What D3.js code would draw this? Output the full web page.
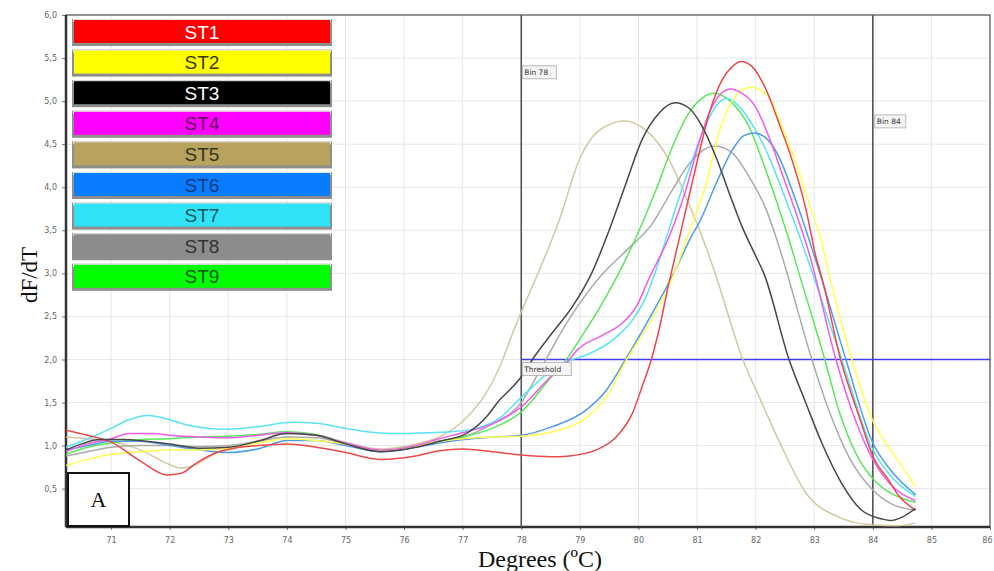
<!DOCTYPE html>
<html><head><meta charset="utf-8">
<script src="https://cdn.jsdelivr.net/npm/d3@7/dist/d3.min.js"></script>
<style>
html,body{margin:0;padding:0;background:#fff;}
svg{display:block;}
</style></head>
<body>
<svg id="chart" width="994" height="571"></svg>
<script>
// ---------- DATA ----------
const seriesNames = ["ST1","ST2","ST3","ST4","ST5","ST6","ST7","ST8","ST9"];
const legendFill  = ["#ff0000","#ffff00","#000000","#ff00ff","#b8a25e","#0a7cff","#30e2f6","#8c8c8c","#00ff00"];
const legendText  = ["#ffffff","#3a3a00","#ffffff","#5a005a","#333322","#083a7a","#0a5660","#333333","#0a560a"];
const lineColors  = ["#ee4848","#ffff50","#474747","#ee5cee","#d2c8a2","#4f9de8","#5ae2f6","#ababab","#5ae85a"];

const xTicks = [71,72,73,74,75,76,77,78,79,80,81,82,83,84,85,86];
const yTicks = [0.5,1.0,1.5,2.0,2.5,3.0,3.5,4.0,4.5,5.0,5.5,6.0];
const binMarkers = [78, 84];
const thresholdValue = 2.0;

// melt curves: [temperature, dF/dT]
const st1 = [[70.23,1.18],[70.6,1.12],[71,1.04],[71.5,0.82],[71.95,0.66],[72.2,0.68],[72.46,0.80],[72.8,0.92],[73.1,0.97],[73.5,1.0],[74,1.02],[74.5,0.98],[75,0.92],[75.6,0.84],[76.2,0.88],[76.6,0.94],[77,0.96],[77.5,0.93],[78,0.89],[78.5,0.87],[78.82,0.88],[79.28,0.95],[79.62,1.10],[79.9,1.38],[80.06,1.68],[80.22,2.0],[80.35,2.34],[80.52,2.89],[80.6,3.12],[80.81,3.74],[81.03,4.38],[81.2,4.84],[81.43,5.25],[81.6,5.40],[81.75,5.46],[81.94,5.40],[82.18,5.13],[82.4,4.74],[82.62,4.32],[82.86,3.74],[83.03,3.19],[83.13,2.95],[83.45,2.0],[83.76,1.35],[84.02,0.85],[84.27,0.60],[84.44,0.42],[84.73,0.25]];
const st2 = [[70.23,0.77],[70.6,0.84],[71,0.90],[71.5,0.93],[72,0.95],[72.5,0.95],[73,0.97],[73.5,1.03],[74,1.08],[74.5,1.06],[75,1.02],[75.6,0.95],[76.2,0.99],[76.6,1.05],[77,1.08],[77.5,1.10],[78,1.11],[78.53,1.16],[79.1,1.32],[79.45,1.56],[79.8,2.0],[80.24,2.48],[80.58,2.95],[80.92,3.58],[81.16,4.05],[81.38,4.65],[81.6,5.0],[81.8,5.14],[81.94,5.16],[82.1,5.12],[82.23,5.05],[82.45,4.70],[82.69,4.28],[82.91,3.82],[83.13,3.35],[83.25,3.0],[83.64,2.0],[83.98,1.32],[84.27,0.98],[84.44,0.82],[84.73,0.52]];
const st3 = [[70.23,0.95],[70.5,1.02],[70.8,1.07],[71.2,1.07],[71.6,1.05],[72,1.02],[72.5,0.97],[73,0.98],[73.5,1.05],[74,1.14],[74.5,1.12],[75,1.02],[75.6,0.93],[76.2,0.98],[76.6,1.05],[77.06,1.14],[77.4,1.33],[77.63,1.53],[77.85,1.68],[78,1.80],[78.19,2.0],[78.53,2.31],[78.87,2.61],[79.2,3.0],[79.5,3.50],[79.79,4.05],[80.06,4.55],[80.35,4.86],[80.62,4.98],[80.86,4.92],[81.06,4.74],[81.33,4.34],[81.55,3.93],[81.77,3.54],[82.01,3.19],[82.14,3.0],[82.57,2.0],[82.86,1.49],[83.13,1.03],[83.47,0.56],[83.81,0.25],[84.15,0.15],[84.3,0.13],[84.5,0.17],[84.73,0.27]];
const st4 = [[70.23,0.93],[70.6,1.02],[71,1.08],[71.3,1.14],[71.7,1.14],[72,1.12],[72.5,1.10],[73,1.09],[73.5,1.12],[74,1.15],[74.5,1.12],[75,1.03],[75.6,0.95],[76.2,1.0],[76.6,1.08],[77,1.15],[77.5,1.25],[78,1.45],[78.5,1.80],[78.82,2.0],[78.94,2.10],[79.38,2.28],[79.72,2.42],[79.96,2.61],[80.18,2.94],[80.52,3.42],[80.81,3.97],[81.03,4.51],[81.2,4.85],[81.4,5.08],[81.58,5.14],[81.72,5.11],[82.0,4.93],[82.23,4.58],[82.45,4.16],[82.69,3.70],[82.91,3.24],[83.37,2.0],[83.7,1.3],[84.0,0.84],[84.3,0.55],[84.73,0.36]];
const st5 = [[70.23,1.10],[70.6,1.08],[71,1.05],[71.5,0.95],[72,0.78],[72.2,0.74],[72.45,0.78],[72.7,0.88],[73,0.97],[73.5,1.05],[74,1.15],[74.5,1.12],[75,1.04],[75.6,0.96],[76.2,1.02],[76.6,1.10],[77.06,1.32],[77.4,1.61],[77.63,1.91],[77.85,2.30],[78,2.55],[78.31,3.04],[78.65,3.62],[78.99,4.32],[79.33,4.66],[79.76,4.77],[80.13,4.66],[80.52,4.32],[80.81,3.89],[81.09,3.42],[81.3,3.02],[81.77,2.02],[82.11,1.49],[82.45,0.98],[82.86,0.45],[83.42,0.17],[83.98,0.08],[84.4,0.07],[84.73,0.10]];
const st6 = [[70.23,0.95],[70.6,1.0],[71,1.05],[71.5,1.05],[72,1.0],[72.5,0.95],[73,0.92],[73.5,0.96],[74,1.06],[74.5,1.06],[75,1.0],[75.6,0.93],[76.2,0.98],[76.6,1.03],[77,1.07],[77.5,1.10],[78,1.12],[78.53,1.22],[79.1,1.41],[79.45,1.64],[79.78,2.0],[80.24,2.54],[80.58,2.97],[80.92,3.45],[81.03,3.58],[81.33,4.05],[81.6,4.43],[81.8,4.60],[81.98,4.63],[82.18,4.57],[82.4,4.35],[82.62,3.97],[82.86,3.50],[83.08,3.04],[83.54,2.0],[84.0,1.03],[84.3,0.72],[84.73,0.43]];
const st7 = [[70.23,0.98],[70.6,1.08],[71,1.20],[71.3,1.30],[71.63,1.35],[72,1.30],[72.3,1.24],[72.68,1.20],[73,1.19],[73.5,1.22],[74.1,1.27],[74.5,1.26],[75,1.20],[75.53,1.15],[76,1.14],[76.38,1.15],[76.8,1.16],[77.23,1.20],[77.63,1.32],[78,1.56],[78.53,1.88],[78.87,2.0],[79.1,2.05],[79.62,2.26],[79.9,2.46],[80.13,2.73],[80.3,3.04],[80.41,3.27],[80.64,3.77],[80.92,4.32],[81.16,4.74],[81.33,4.95],[81.5,5.03],[81.77,4.90],[82.0,4.66],[82.23,4.35],[82.45,3.97],[82.69,3.54],[82.91,3.12],[83.47,2.0],[84.0,0.95],[84.3,0.65],[84.73,0.41]];
const st8 = [[70.23,0.88],[70.6,0.93],[71,0.98],[71.5,1.0],[72,1.0],[72.5,0.99],[73,1.0],[73.5,1.05],[74,1.10],[74.5,1.09],[75,1.02],[75.6,0.95],[76.2,1.0],[76.6,1.05],[77,1.10],[77.5,1.25],[78,1.50],[78.3,1.85],[78.77,2.42],[79.33,2.95],[79.8,3.27],[80.24,3.58],[80.58,3.97],[80.92,4.32],[81.3,4.48],[81.6,4.40],[81.89,4.12],[82.18,3.74],[82.4,3.31],[82.52,3.04],[82.96,2.0],[83.25,1.41],[83.59,0.87],[83.98,0.50],[84.3,0.33],[84.73,0.25]];
const st9 = [[70.23,0.90],[70.6,0.98],[71,1.03],[71.5,1.07],[72,1.08],[72.5,1.10],[73,1.11],[73.5,1.13],[74,1.16],[74.5,1.13],[75,1.03],[75.6,0.95],[76.2,0.99],[76.6,1.05],[77,1.10],[77.5,1.20],[78,1.39],[78.43,1.73],[78.77,2.0],[79.1,2.34],[79.38,2.65],[79.64,2.97],[79.96,3.42],[80.3,3.97],[80.58,4.47],[80.86,4.86],[81.1,5.04],[81.28,5.09],[81.6,4.98],[81.89,4.70],[82.11,4.32],[82.35,3.85],[82.57,3.39],[82.74,3.0],[83.18,2.0],[83.42,1.41],[83.71,0.91],[84.05,0.58],[84.3,0.45],[84.73,0.34]];
const seriesValues = [st1,st2,st3,st4,st5,st6,st7,st8,st9];

// ---------- LAYOUT ----------
const W = 994, H = 571;
const m = {left:66, top:15, right:4, bottom:44};
const pw = W - m.left - m.right, ph = H - m.top - m.bottom;

const svg = d3.select("#chart");
const x = d3.scaleLinear().domain([70.23, 86]).range([m.left, m.left + pw]);
const y = d3.scaleLinear().domain([0.055, 6.0]).range([m.top + ph, m.top]);

const fmt = v => d3.format(".1f")(v).replace(".", ",");

// grid
const grid = svg.append("g");
grid.selectAll("line.gx").data(xTicks).join("line")
  .attr("x1", d => x(d)).attr("x2", d => x(d))
  .attr("y1", m.top).attr("y2", m.top + ph)
  .attr("stroke", "#e6e6e6").attr("stroke-width", 1);
grid.selectAll("line.gy").data(yTicks).join("line")
  .attr("x1", m.left).attr("x2", m.left + pw)
  .attr("y1", d => y(d)).attr("y2", d => y(d))
  .attr("stroke", "#e6e6e6").attr("stroke-width", 1);

// axes
const xAxis = d3.axisBottom(x).tickValues(xTicks).tickSize(3).tickFormat(d3.format("d"));
const yAxis = d3.axisLeft(y).tickValues(yTicks).tickSize(4).tickFormat(fmt);
const gx = svg.append("g").attr("transform", `translate(0,${m.top + ph})`).call(xAxis);
const gy = svg.append("g").attr("transform", `translate(${m.left},0)`).call(yAxis);
[gx, gy].forEach(g => {
  g.select(".domain").remove();
  g.selectAll(".tick line").attr("stroke", "#777");
  g.selectAll(".tick text").attr("fill", "#666").attr("font-size", 8)
    .attr("font-family", "DejaVu Sans, sans-serif");
});
gx.selectAll(".tick text").attr("dy", "1.3em");
gx.selectAll(".tick text").filter(d => d === xTicks[xTicks.length - 1])
  .attr("text-anchor", "end").attr("dx", "2");
gy.selectAll(".tick text").attr("dx", "-2");

// frame
svg.append("rect").attr("x", m.left).attr("y", m.top).attr("width", pw).attr("height", ph)
  .attr("fill", "none").attr("stroke", "#555").attr("stroke-width", 1.2);
svg.append("line").attr("x1", m.left).attr("x2", m.left).attr("y1", m.top).attr("y2", m.top + ph)
  .attr("stroke", "#333").attr("stroke-width", 2.5);
svg.append("line").attr("x1", m.left).attr("x2", m.left + pw).attr("y1", m.top + ph).attr("y2", m.top + ph)
  .attr("stroke", "#333").attr("stroke-width", 2.5);

// clip
svg.append("clipPath").attr("id", "clip").append("rect")
  .attr("x", m.left).attr("y", m.top).attr("width", pw).attr("height", ph);

// bin markers
svg.append("g").selectAll("line").data(binMarkers).join("line")
  .attr("x1", d => x(d)).attr("x2", d => x(d))
  .attr("y1", m.top).attr("y2", m.top + ph)
  .attr("stroke", "#555").attr("stroke-width", 1.6);

// threshold
svg.append("line").attr("x1", x(binMarkers[0])).attr("x2", m.left + pw)
  .attr("y1", y(thresholdValue)).attr("y2", y(thresholdValue))
  .attr("stroke", "#3c3cf0").attr("stroke-width", 1.4);

// curves
const line = d3.line().x(d => x(d[0])).y(d => y(d[1])).curve(d3.curveMonotoneX);
const drawOrder = [4,7,8,6,5,1,3,0,2];
svg.append("g").attr("clip-path", "url(#clip)")
  .selectAll("path").data(drawOrder).join("path")
  .attr("d", i => line(seriesValues[i]))
  .attr("fill", "none")
  .attr("stroke", i => lineColors[i])
  .attr("stroke-width", 1.5)
  .attr("stroke-linejoin", "round");

// annotation labels
function tag(label, px, py, w) {
  const g = svg.append("g");
  g.append("rect").attr("x", px).attr("y", py).attr("width", w).attr("height", 13)
    .attr("fill", "#f5f5f5").attr("stroke", "#aaa").attr("stroke-width", 0.8);
  g.append("text").attr("x", px + 2).attr("y", py + 9.5).text(label)
    .attr("font-size", 7.5).attr("fill", "#333").attr("font-family", "DejaVu Sans, sans-serif");
}
tag("Bin " + binMarkers[0], x(binMarkers[0]) + 1, y(5.41), 34);
tag("Bin " + binMarkers[1], x(binMarkers[1]) + 2, y(4.84), 31);
tag("Threshold", x(binMarkers[0]) + 1, y(thresholdValue) + 3, 49);

// legend
const leg = svg.append("g");
seriesNames.forEach((name, i) => {
  const ty = 20 + i * 30.6;
  leg.append("rect").attr("x", 72).attr("y", ty - 1).attr("width", 260).attr("height", 27)
    .attr("fill", "#8e8e8e");
  leg.append("rect").attr("x", 73).attr("y", ty - 1).attr("width", 258).attr("height", 3)
    .attr("fill", "#e4e4e4");
  leg.append("rect").attr("x", 74).attr("y", ty).attr("width", 256).attr("height", 23)
    .attr("fill", legendFill[i]);
  leg.append("text").attr("x", 202).attr("y", ty + 18.5).attr("text-anchor", "middle")
    .text(name).attr("font-size", 19).attr("fill", legendText[i])
    .attr("font-family", "Liberation Sans, Arial, sans-serif");
});

// "A" box
svg.append("rect").attr("x", 68).attr("y", 473).attr("width", 61).attr("height", 53)
  .attr("fill", "#fff").attr("stroke", "#111").attr("stroke-width", 2);
svg.append("text").attr("x", 98.5).attr("y", 507).attr("text-anchor", "middle")
  .text("A").attr("font-size", 22).attr("fill", "#111")
  .attr("font-family", "Liberation Serif, Times New Roman, serif");

// axis titles
svg.append("text").attr("x", 540).attr("y", 567).attr("text-anchor", "middle")
  .text("Degrees (ºC)").attr("font-size", 24).attr("fill", "#111")
  .attr("font-family", "Liberation Serif, Times New Roman, serif");
svg.append("text").attr("transform", "translate(37,275) rotate(-90)").attr("text-anchor", "middle")
  .text("dF/dT").attr("font-size", 23).attr("fill", "#111")
  .attr("font-family", "Liberation Serif, Times New Roman, serif");
</script>
</body></html>
